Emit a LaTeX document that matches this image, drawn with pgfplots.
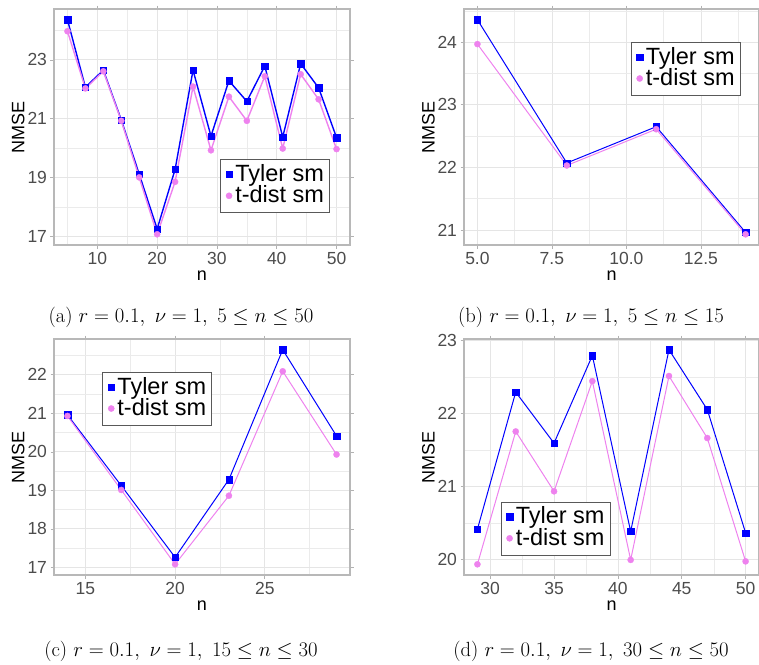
\documentclass[border=0pt]{standalone}
\usepackage{fontspec}
\usepackage{pgfplots}
\pgfplotsset{compat=1.18}
\newfontfamily\arial{Liberation Sans}
\definecolor{gblue}{HTML}{0000FF}
\definecolor{gviolet}{HTML}{EE82EE}
\pgfplotsset{
  panel/.style={
    width=296pt, height=236pt, scale only axis, anchor=north west,
    axis line style={draw=black!28, line width=1.1pt},
    grid=both,
    major grid style={draw=black!10, line width=0.7pt},
    minor grid style={draw=black!8, line width=0.35pt},
    tick align=outside, major tick length=3.5pt, minor tick length=0pt,
    tick style={draw=black!30, line width=0.6pt},
    /pgf/number format/assume math mode=true,
    ticklabel style={font=\arial\fontsize{17.5}{17.5}\selectfont, text=black!70},
    label style={font=\arial\fontsize{18}{18}\selectfont, text=black},
    xlabel={n}, ylabel={NMSE},
    xlabel style={at={(axis description cs:0.5,-0.131)}, anchor=center},
    ylabel style={at={(axis description cs:-0.121,0.5)}, anchor=center},
    legend cell align=left,
    legend style={draw=black!65, line width=0.6pt, fill=white,
      font=\arial\fontsize{23.5}{23.5}\selectfont,
      inner xsep=5.5pt, inner ysep=5pt, row sep=0pt, column sep=3pt,
      nodes={inner sep=0pt, text height=16.9pt, text depth=4.7pt}},
    legend image code/.code={\draw[##1, yshift=1pt] plot[only marks] coordinates {(0.12cm,0cm)};},
  },
  tyler/.style={color=gblue, line width=#1, mark=square*, mark size=3.2pt, mark options={solid, line width=0.3pt}},
  tdist/.style={color=gviolet, line width=#1, mark=*, mark size=3.1pt, mark options={solid, line width=0.3pt}},
}
\begin{document}
\begin{tikzpicture}[x=1pt,y=1pt]
\useasboundingbox (0,0) rectangle (759,-664);
% (a)
\begin{axis}[panel, at={(54pt,-9pt)},
  xmin=2.75, xmax=52.25, ymin=16.716, ymax=24.724,
  xtick={10,20,30,40,50}, minor xtick={5,15,25,35,45},
  ytick={17,19,21,23}, minor ytick={18,20,22,24},
  legend style={at={(axis description cs:0.561,0.364)}, anchor=north west}]
\addplot[tyler=1.4pt] table {
n v
5 24.36
8 22.07
11 22.65
14 20.96
17 19.12
20 17.26
23 19.28
26 22.65
29 20.41
32 22.29
35 21.59
38 22.79
41 20.38
44 22.87
47 22.05
50 20.36
};
\addlegendentry{Tyler sm}
\addplot[tdist=1.4pt] table {
n v
5 23.97
8 22.03
11 22.61
14 20.93
17 19.01
20 17.08
23 18.86
26 22.09
29 19.93
32 21.75
35 20.93
38 22.44
41 19.99
44 22.51
47 21.66
50 19.97
};
\addlegendentry{t-dist sm}
\end{axis}
% (b)
\begin{axis}[panel, at={(464pt,-9pt)}, width=295pt,
  xmin=4.55, xmax=14.45, ymin=20.7585, ymax=24.5315,
  xtick={5,7.5,10,12.5}, minor xtick={6.25,8.75,11.25,13.75},
  ytick={21,22,23,24}, minor ytick={21.5,22.5,23.5,24.5},
  xticklabel style={/pgf/number format/.cd, fixed, fixed zerofill, precision=1},
  legend style={at={(axis description cs:0.565,0.861)}, anchor=north west}]
\addplot[tyler=1pt] table {
n v
5 24.36
8 22.07
11 22.65
14 20.96
};
\addlegendentry{Tyler sm}
\addplot[tdist=1pt] table {
n v
5 23.97
8 22.03
11 22.61
14 20.93
};
\addlegendentry{t-dist sm}
\end{axis}
% (c)
\begin{axis}[panel, at={(54pt,-339pt)},
  xmin=13.25, xmax=29.75, ymin=16.8015, ymax=22.9285,
  xtick={15,20,25}, minor xtick={17.5,22.5,27.5},
  ytick={17,18,19,20,21,22}, minor ytick={17.5,18.5,19.5,20.5,21.5,22.5},
  legend style={at={(axis description cs:0.163,0.861)}, anchor=north west}]
\addplot[tyler=1pt] table {
n v
14 20.96
17 19.12
20 17.26
23 19.28
26 22.65
29 20.41
};
\addlegendentry{Tyler sm}
\addplot[tdist=1pt] table {
n v
14 20.93
17 19.01
20 17.08
23 18.86
26 22.09
29 19.93
};
\addlegendentry{t-dist sm}
\end{axis}
% (d)
\begin{axis}[panel, at={(464pt,-339pt)}, width=295pt,
  xmin=27.95, xmax=51.05, ymin=19.783, ymax=23.017,
  xtick={30,35,40,45,50}, minor xtick={32.5,37.5,42.5,47.5},
  ytick={20,21,22,23}, minor ytick={20.5,21.5,22.5},
  legend style={at={(axis description cs:0.124,0.311)}, anchor=north west}]
\addplot[tyler=1pt] table {
n v
29 20.41
32 22.29
35 21.59
38 22.79
41 20.38
44 22.87
47 22.05
50 20.36
};
\addlegendentry{Tyler sm}
\addplot[tdist=1pt] table {
n v
29 19.93
32 21.75
35 20.93
38 22.44
41 19.99
44 22.51
47 21.66
50 19.97
};
\addlegendentry{t-dist sm}
\end{axis}
\begin{scope}[every node/.style={font=\fontsize{20.5}{20.5}\selectfont, anchor=base, inner sep=0pt}]
\node at (181,-322.7) {(a) $r = 0.1,\ \nu = 1,\ 5 \leq n \leq 50$};
\node at (591,-322.7) {(b) $r = 0.1,\ \nu = 1,\ 5 \leq n \leq 15$};
\node at (181,-656) {(c) $r = 0.1,\ \nu = 1,\ 15 \leq n \leq 30$};
\node at (591,-656) {(d) $r = 0.1,\ \nu = 1,\ 30 \leq n \leq 50$};
\end{scope}
\end{tikzpicture}
\end{document}
